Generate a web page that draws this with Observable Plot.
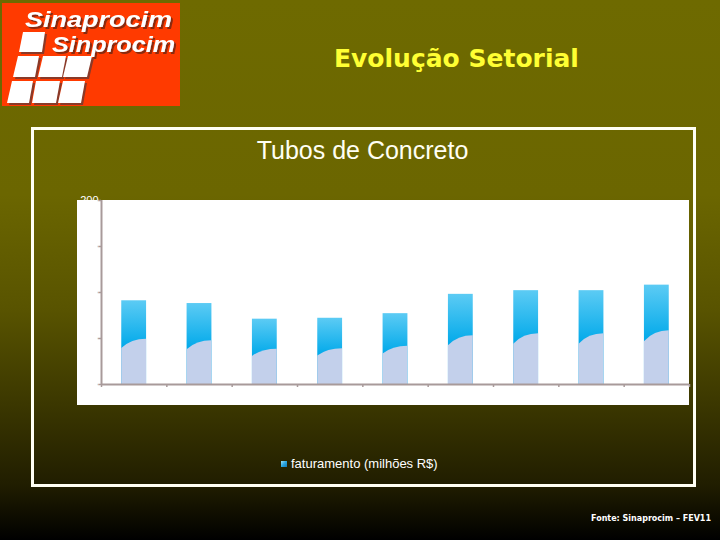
<!DOCTYPE html>
<html>
<head>
<meta charset="utf-8">
<script src="https://cdn.jsdelivr.net/npm/d3@7"></script>
<script src="https://cdn.jsdelivr.net/npm/@observablehq/plot@0.6"></script>
<style>
  body { margin: 0; background: #000; }
  #page {
    position: relative; width: 720px; height: 540px; overflow: hidden;
    background: linear-gradient(to bottom, #6e6a00 0%, #6b6600 36%, #595400 57%, #3b3700 75%, #201d00 90%, #000000 100%);
    font-family: "Liberation Sans", Arial, sans-serif;
  }
  #logo { position: absolute; left: 0; top: 0; }
  #header {
    position: absolute; left: 334px; top: 44px; margin: 0;
    font-family: "DejaVu Sans", Verdana, sans-serif; font-weight: bold;
    font-size: 25px; color: #ffff33; white-space: nowrap;
  }
  #frame {
    position: absolute; left: 31px; top: 127px; width: 659px; height: 354px;
    border: 3px solid #fffff4;
  }
  #plotbg { position: absolute; left: 77px; top: 200px; width: 612px; height: 205px; background: #fff; }
  #title {
    position: absolute; left: 0; width: 725px; top: 136px; text-align: center;
    font-size: 25px; color: #fffff4; white-space: nowrap;
  }
  #chart { position: absolute; left: 0; top: 0; }
  #legend {
    position: absolute; left: 281px; top: 456px; font-size: 13px; color: #fff; white-space: nowrap;
    display: flex; align-items: center;
  }
  #legend .sw {
    width: 6px; height: 6px; margin-right: 4px;
    background: linear-gradient(135deg, #9fe0fa 0%, #2aa6e0 50%, #1279b8 100%);
  }
  #footer {
    position: absolute; left: 591px; top: 514px; font-family: "DejaVu Sans", Verdana, sans-serif;
    font-weight: bold; font-size: 8px; color: #fff; white-space: nowrap;
  }
</style>
</head>
<body>
<div id="page">
  <svg id="logo" width="186" height="110" xmlns="http://www.w3.org/2000/svg">
    <defs>
      <filter id="shadow" x="-10%" y="-10%" width="130%" height="140%">
        <feDropShadow dx="2" dy="2" stdDeviation="0.6" flood-color="#8a2a10" flood-opacity="1"/>
      </filter>
    </defs>
    <rect x="2" y="3" width="178" height="103" fill="#ff3a00"/>
    <g font-family="Liberation Sans, Arial, sans-serif" font-weight="bold" font-style="italic" font-size="22" fill="#ffffff" filter="url(#shadow)">
      <text x="25" y="27" textLength="147" lengthAdjust="spacingAndGlyphs">Sinaprocim</text>
      <text x="52" y="52" textLength="123" lengthAdjust="spacingAndGlyphs">Sinprocim</text>
    </g>
    <g id="tiles"></g>
  </svg>
  <div id="header">Evolução Setorial</div>
  <div id="frame"></div>
  <div id="title">Tubos de Concreto</div>
  <div id="plotbg"></div>
  <div id="chart"></div>
  <div id="legend"><div class="sw"></div><span>faturamento (milhões R$)</span></div>
  <div id="footer">Fonte: Sinaprocim – FEV11</div>
</div>
<script>
// ---- data ----
const periods = ["1", "2", "3", "4", "5", "6", "7", "8", "9"];
const faturamento = [91, 88, 71, 72, 77, 98, 102, 102, 108];
const yTicks = [0, 50, 100, 150, 200];
const yTickLabels = ["0", "50", "100", "150", "200"];

// ---- logo tiles (decoration) ----
const tileRows = [
  [[23, 45, 19, 42, 32, 52]],
  [[18, 39, 13, 35, 56, 77], [43, 66, 38, 62, 56, 77], [68, 92, 63, 87, 56, 77]],
  [[12, 33, 7, 29, 81, 103], [36, 60, 32, 56, 81, 103], [63, 85, 58, 81, 81, 103]]
];
const tg = d3.select("#tiles");
for (const row of tileRows) for (const [a, b, c, d, t, bt] of row) {
  tg.append("polygon").attr("points", `${a+2},${t+2} ${b+2},${t+2} ${d+2},${bt+2} ${c+2},${bt+2}`).attr("fill", "#8a3a28");
  tg.append("polygon").attr("points", `${a},${t} ${b},${t} ${d},${bt} ${c},${bt}`).attr("fill", "#ffffff");
}

// ---- chart ----
const data = periods.map((p, i) => ({period: p, i, value: faturamento[i]}));
const axisColor = "#a89a9a";

const lavender = (index, scales) => {
  const g = d3.create("svg:g");
  for (const d of data) {
    const x1 = scales.x(d.i + 0.31), x2 = scales.x(d.i + 0.69);
    const w = x2 - x1;
    const yb = scales.y(0), yL = scales.y(d.value * 0.43), yR = scales.y(d.value * 0.54);
    g.append("path")
      .attr("d", `M${x1},${yb} L${x1},${yL} Q${x1 + 0.4 * w},${yR} ${x2},${yR} L${x2},${yb} Z`)
      .attr("fill", "#c3d0eb");
  }
  return g.node();
};

const chart = Plot.plot({
  width: 720,
  height: 540,
  marginTop: 200,
  marginBottom: 156,
  marginLeft: 101,
  marginRight: 31,
  style: {background: "transparent", fontFamily: "Liberation Sans, Arial, sans-serif"},
  x: {domain: [0, periods.length], axis: null},
  y: {domain: [0, 200], axis: null},
  marks: [
    Plot.rectY(data, {x1: d => d.i + 0.31, x2: d => d.i + 0.69, y1: 0, y2: "value", fill: "url(#barGrad)"}),
    lavender,
    Plot.ruleY([0], {stroke: axisColor, strokeWidth: 2}),
    Plot.ruleX([0], {y1: 0, y2: 200, stroke: axisColor, strokeWidth: 2}),
    Plot.axisY({ticks: yTicks, tickFormat: (d) => yTickLabels[yTicks.indexOf(d)], tickSize: 4, tickPadding: -1,
                stroke: axisColor, strokeWidth: 1.5, fill: "#ffffff", fontSize: 11, label: null}),
    Plot.axisX({ticks: d3.range(periods.length + 1), tickFormat: () => "", tickSize: 3, tickPadding: 0,
                stroke: axisColor, strokeWidth: 1.5, label: null})
  ]
});

const defs = d3.select(chart).insert("defs", ":first-child");
const grad = defs.append("linearGradient").attr("id", "barGrad").attr("x1", 0).attr("y1", 0).attr("x2", 0).attr("y2", 1);
grad.append("stop").attr("offset", "0%").attr("stop-color", "#5ccbf4");
grad.append("stop").attr("offset", "55%").attr("stop-color", "#03aaea");
grad.append("stop").attr("offset", "100%").attr("stop-color", "#00a4e4");

document.getElementById("chart").appendChild(chart);
</script>
</body>
</html>
